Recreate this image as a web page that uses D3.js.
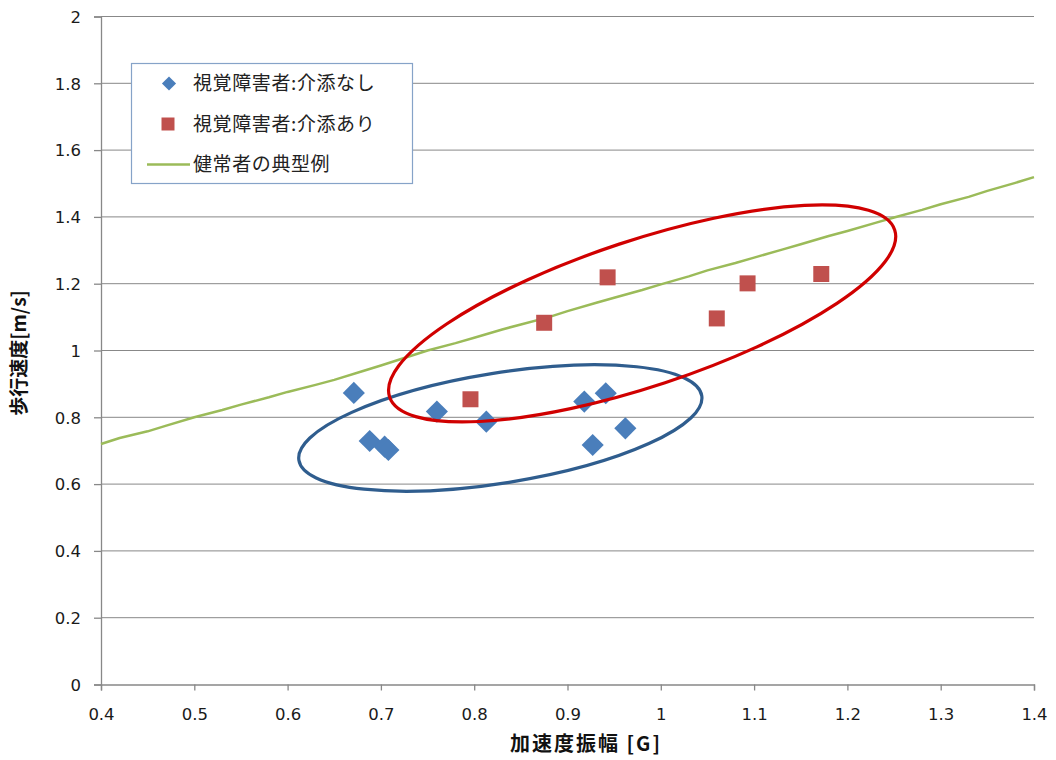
<!DOCTYPE html>
<html>
<head>
<meta charset="utf-8">
<script src="https://cdn.jsdelivr.net/npm/d3@7"></script>
<style>
  html, body { margin: 0; padding: 0; background: #fff; }
  svg { display: block; }
</style>
</head>
<body>
<svg id="chart" width="1056" height="760"></svg>
<script>
// 加速度振幅 vs 歩行速度
const noAssistX = [0.671, 0.688, 0.704, 0.708, 0.760, 0.813, 0.918, 0.941, 0.927, 0.962];
const noAssistY = [0.873, 0.729, 0.712, 0.702, 0.817, 0.787, 0.847, 0.872, 0.717, 0.767];

const assistX = [0.796, 0.875, 0.943, 1.060, 1.093, 1.172];
const assistY = [0.854, 1.083, 1.219, 1.096, 1.201, 1.229];

const typicalX = [0.40, 0.42, 0.45, 0.47, 0.50, 0.53, 0.55, 0.58, 0.60, 0.63, 0.65, 0.68, 0.70,
                  0.73, 0.75, 0.78, 0.80, 0.83, 0.85, 0.88, 0.90, 0.93, 0.95, 0.98, 1.00,
                  1.03, 1.05, 1.08, 1.10, 1.13, 1.15, 1.18, 1.20, 1.23, 1.25, 1.28, 1.30,
                  1.33, 1.35, 1.38, 1.40];
const typicalY = [0.720, 0.738, 0.758, 0.775, 0.800, 0.822, 0.838, 0.860, 0.876, 0.897, 0.912, 0.938, 0.955,
                  0.982, 1.000, 1.022, 1.038, 1.063, 1.078, 1.100, 1.118, 1.142, 1.158, 1.181, 1.198,
                  1.222, 1.240, 1.262, 1.278, 1.302, 1.318, 1.343, 1.358, 1.382, 1.398, 1.421, 1.438,
                  1.460, 1.478, 1.502, 1.519];

const xTicks = [0.4, 0.5, 0.6, 0.7, 0.8, 0.9, 1.0, 1.1, 1.2, 1.3, 1.4];
const yTicks = [0, 0.2, 0.4, 0.6, 0.8, 1.0, 1.2, 1.4, 1.6, 1.8, 2.0];

// group outlines: centre in data units
const groupCentersX = [0.828, 0.980];
const groupCentersY = [0.768, 1.111];

const seriesNames = ["視覚障害者:介添なし", "視覚障害者:介添あり", "健常者の典型例"];

const svg = d3.select("#chart");
const plot = { left: 101, right: 1034, top: 16.5, bottom: 684.5 };

const x = d3.scaleLinear().domain([0.4, 1.4]).range([plot.left, plot.right]);
const y = d3.scaleLinear().domain([0, 2]).range([plot.bottom, plot.top]);

const axisColor = "#888888";
const tickFont = "'DejaVu Sans', Verdana, sans-serif";
const cjkFont = "'Noto Sans CJK JP', 'Noto Sans', sans-serif";

// horizontal gridlines
svg.append("g")
  .selectAll("line")
  .data(yTicks.filter(d => d > 0))
  .join("line")
  .attr("x1", plot.left).attr("x2", plot.right)
  .attr("y1", d => y(d)).attr("y2", d => y(d))
  .attr("stroke", axisColor).attr("stroke-width", 1);

// y axis
const yAxis = svg.append("g")
  .attr("transform", `translate(${plot.left},0)`)
  .call(d3.axisLeft(y).tickValues(yTicks).tickSize(7).tickPadding(13).tickFormat(d3.format("~g")));
// x axis
const xAxis = svg.append("g")
  .attr("transform", `translate(0,${plot.bottom})`)
  .call(d3.axisBottom(x).tickValues(xTicks).tickSize(6).tickPadding(18).tickFormat(d3.format("~g")));

[yAxis, xAxis].forEach(ax => {
  ax.select(".domain").attr("stroke", axisColor).attr("stroke-width", 1.3);
  ax.selectAll(".tick line").attr("stroke", axisColor).attr("stroke-width", 1.3);
  ax.selectAll(".tick text")
    .attr("fill", "#1a1a1a")
    .style("font-family", tickFont)
    .style("font-size", "16.5px");
});
yAxis.selectAll(".tick text").attr("dy", "0.35em");

// typical healthy walker line
const line = d3.line().x(d => x(d[0])).y(d => y(d[1]));
svg.append("path")
  .datum(d3.zip(typicalX, typicalY))
  .attr("d", line)
  .attr("fill", "none")
  .attr("stroke", "#9bbb59")
  .attr("stroke-width", 2.5)
  .attr("stroke-linejoin", "round");

// markers
const diamond = d3.symbol().type(d3.symbolSquare).size(245);
const square = d3.symbol().type(d3.symbolSquare).size(256);

svg.append("g")
  .selectAll("path")
  .data(d3.zip(noAssistX, noAssistY))
  .join("path")
  .attr("d", diamond)
  .attr("transform", d => `translate(${x(d[0])},${y(d[1])}) rotate(45)`)
  .attr("fill", "#4a7ebb");

svg.append("g")
  .selectAll("path")
  .data(d3.zip(assistX, assistY))
  .join("path")
  .attr("d", square)
  .attr("transform", d => `translate(${x(d[0])},${y(d[1])})`)
  .attr("fill", "#c0504d");

// group outlines
const outlineStyle = [
  { rx: 204, ry: 55, angle: -9.1, color: "#2f5d8e" },
  { rx: 266, ry: 73, angle: -18.3, color: "#d00000" }
];
svg.append("g")
  .selectAll("ellipse")
  .data(d3.zip(groupCentersX, groupCentersY, outlineStyle))
  .join("ellipse")
  .attr("transform", d => `translate(${x(d[0])},${y(d[1])}) rotate(${d[2].angle})`)
  .attr("rx", d => d[2].rx)
  .attr("ry", d => d[2].ry)
  .attr("fill", "none")
  .attr("stroke", d => d[2].color)
  .attr("stroke-width", 3.2);

// legend
const legend = svg.append("g");
legend.append("rect")
  .attr("x", 131.5).attr("y", 63.5)
  .attr("width", 281).attr("height", 120)
  .attr("fill", "#fff")
  .attr("stroke", "#86a3c8")
  .attr("stroke-width", 1.2);

const rowY = [83.5, 124, 164.5];
legend.append("path")
  .attr("d", d3.symbol().type(d3.symbolSquare).size(100))
  .attr("transform", `translate(169,${rowY[0]}) rotate(45)`)
  .attr("fill", "#4a7ebb");
legend.append("path")
  .attr("d", d3.symbol().type(d3.symbolSquare).size(169))
  .attr("transform", `translate(168,${rowY[1]})`)
  .attr("fill", "#c0504d");
legend.append("line")
  .attr("x1", 147).attr("x2", 190)
  .attr("y1", rowY[2]).attr("y2", rowY[2])
  .attr("stroke", "#9bbb59").attr("stroke-width", 2.5);

legend.selectAll("text")
  .data(seriesNames)
  .join("text")
  .attr("x", 193)
  .attr("y", (d, i) => rowY[i])
  .attr("dy", "0.36em")
  .attr("fill", "#222")
  .style("font-family", cjkFont)
  .style("font-size", "19px")
  .style("letter-spacing", "0.6px")
  .text(d => d);

// axis titles
svg.append("text")
  .attr("x", 586).attr("y", 744)
  .attr("dy", "0.35em")
  .attr("text-anchor", "middle")
  .attr("fill", "#111")
  .style("font-family", cjkFont)
  .style("font-size", "20px")
  .style("font-weight", "bold")
  .style("letter-spacing", "2px")
  .text("加速度振幅 [G]");

svg.append("text")
  .attr("transform", "translate(19,353) rotate(-90)")
  .attr("dy", "0.35em")
  .attr("text-anchor", "middle")
  .attr("fill", "#111")
  .style("font-family", cjkFont)
  .style("font-size", "19px")
  .style("font-weight", "bold")
  .text("歩行速度[m/s]");
</script>
</body>
</html>
